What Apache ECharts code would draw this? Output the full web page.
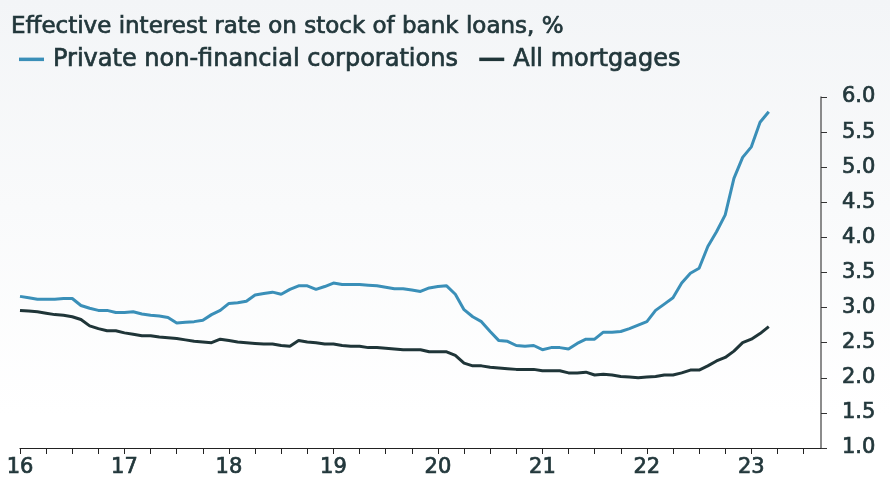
<!DOCTYPE html>
<html lang="en">
<head>
    <meta charset="UTF-8">
    <title>Effective interest rate on stock of bank loans</title>
    <script src="https://cdn.jsdelivr.net/npm/echarts@6/dist/echarts.min.js"></script>
    <style>
        html, body { margin: 0; padding: 0; }
        #chart { width: 890px; height: 488px; }
    </style>
</head>
<body>
    <div id="chart"></div>
    <script>
        // monthly, Jan 2016 - Mar 2023
        var corporations = [
            3.16, 3.14, 3.12, 3.12, 3.12, 3.13, 3.13, 3.03, 2.99, 2.96, 2.96, 2.93,
            2.93, 2.94, 2.91, 2.89, 2.88, 2.86, 2.78, 2.79, 2.80, 2.82, 2.90, 2.96,
            3.06, 3.07, 3.09, 3.18, 3.20, 3.22, 3.19, 3.26, 3.31, 3.31, 3.26, 3.30,
            3.35, 3.33, 3.33, 3.33, 3.32, 3.31, 3.29, 3.27, 3.27, 3.25, 3.23, 3.28,
            3.30, 3.31, 3.19, 2.97, 2.87, 2.80, 2.66, 2.53, 2.52, 2.46, 2.45, 2.46,
            2.40, 2.43, 2.43, 2.41, 2.49, 2.55, 2.55, 2.65, 2.65, 2.66, 2.70, 2.75,
            2.80, 2.96, 3.05, 3.14, 3.35, 3.49, 3.56, 3.87, 4.08, 4.32, 4.84, 5.14,
            5.29, 5.64, 5.79
        ];
        var mortgages = [
            2.96, 2.95, 2.94, 2.92, 2.90, 2.89, 2.87, 2.83, 2.74, 2.70, 2.67, 2.67,
            2.64, 2.62, 2.60, 2.60, 2.58, 2.57, 2.56, 2.54, 2.52, 2.51, 2.50, 2.55,
            2.53, 2.51, 2.50, 2.49, 2.48, 2.48, 2.46, 2.45, 2.53, 2.51, 2.50, 2.48,
            2.48, 2.46, 2.45, 2.45, 2.43, 2.43, 2.42, 2.41, 2.40, 2.40, 2.40, 2.37,
            2.37, 2.37, 2.32, 2.21, 2.17, 2.17, 2.15, 2.14, 2.13, 2.12, 2.12, 2.12,
            2.10, 2.10, 2.10, 2.07, 2.07, 2.08, 2.04, 2.05, 2.04, 2.02, 2.01, 2.00,
            2.01, 2.02, 2.04, 2.04, 2.07, 2.11, 2.11, 2.17, 2.24, 2.29, 2.38, 2.50,
            2.55, 2.63, 2.73
        ];
        var yTicks = [1.0, 1.5, 2.0, 2.5, 3.0, 3.5, 4.0, 4.5, 5.0, 5.5, 6.0];

        // month categories Jan 2016 - Sep 2023 (axis runs a bit past the data)
        var months = [];
        for (var y = 2016; y <= 2023; y++) {
            for (var m = 1; m <= 12; m++) {
                if (y === 2023 && m > 9) break;
                months.push(y + '-' + (m < 10 ? '0' + m : m));
            }
        }

        var ink = '#22373b';
        var font = '"DejaVu Sans", Verdana, sans-serif';
        // thin stroke in the text colour to get the medium weight of the original
        var heavy = { textBorderColor: ink, textBorderWidth: 0.7 };

        var myChart = echarts.init(document.getElementById('chart'));
        var option = {
            backgroundColor: {
                type: 'linear', x: 0, y: 0, x2: 0, y2: 1,
                colorStops: [
                    { offset: 0, color: '#f3f5f7' },
                    { offset: 0.85, color: '#ffffff' },
                    { offset: 1, color: '#ffffff' }
                ]
            },
            animation: false,
            title: {
                text: 'Effective interest rate on stock of bank loans, %',
                left: 6,
                top: 11,
                textStyle: Object.assign({ color: ink, fontFamily: font, fontSize: 23, fontWeight: 'normal' }, heavy)
            },
            legend: {
                left: 14,
                top: 42,
                itemWidth: 25,
                itemHeight: 3.5,
                itemGap: 21,
                icon: 'rect',
                textStyle: Object.assign({
                    color: ink, fontFamily: font, fontSize: 24, fontWeight: 'normal',
                    padding: [0, 0, 0, 4]
                }, heavy),
                data: ['Private non-financial corporations', 'All mortgages']
            },
            grid: { left: 20, right: 69, top: 97, bottom: 40 },
            xAxis: {
                type: 'category',
                data: months,
                boundaryGap: false,
                axisLine: { lineStyle: { color: '#222222', width: 1.2 } },
                axisTick: {
                    length: 6,
                    lineStyle: { color: '#222222' },
                    interval: function (i) { return i % 3 === 0; }
                },
                axisLabel: Object.assign({
                    interval: function (i) { return i % 12 === 0; },
                    formatter: function (v) { return v.slice(2, 4); },
                    color: ink,
                    fontFamily: font,
                    fontSize: 21,
                    margin: 9
                }, heavy),
                splitLine: { show: false }
            },
            yAxis: {
                type: 'value',
                position: 'right',
                min: yTicks[0],
                max: yTicks[yTicks.length - 1],
                interval: 0.5,
                axisLine: { show: true, lineStyle: { color: '#666666', width: 1.5 } },
                axisTick: { show: true, length: 6, lineStyle: { color: '#333333' } },
                axisLabel: Object.assign({
                    formatter: function (v) { return v.toFixed(1); },
                    color: ink,
                    fontFamily: font,
                    fontSize: 21,
                    margin: 21
                }, heavy),
                splitLine: { show: false }
            },
            series: [
                {
                    name: 'Private non-financial corporations',
                    type: 'line',
                    data: corporations,
                    showSymbol: false,
                    lineStyle: { color: '#3a8fb8', width: 3 },
                    itemStyle: { color: '#3a8fb8' }
                },
                {
                    name: 'All mortgages',
                    type: 'line',
                    data: mortgages,
                    showSymbol: false,
                    lineStyle: { color: '#1f3538', width: 3 },
                    itemStyle: { color: '#1f3538' }
                }
            ]
        };
        myChart.setOption(option);
    </script>
</body>
</html>
